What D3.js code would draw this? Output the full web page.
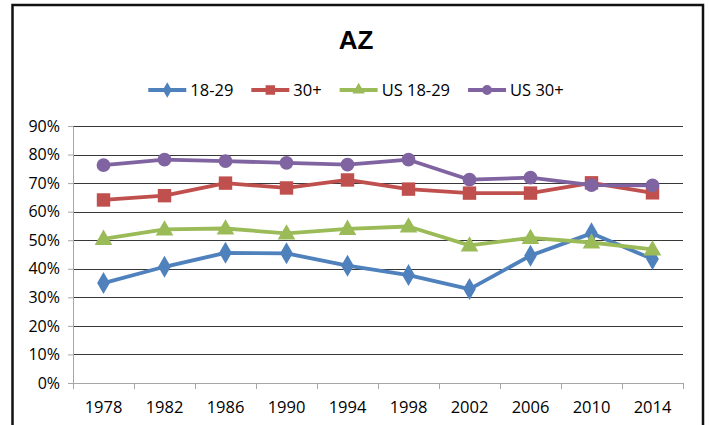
<!DOCTYPE html>
<html>
<head>
<meta charset="utf-8">
<script src="https://cdn.jsdelivr.net/npm/d3@7"></script>
<style>
  body { margin: 0; background: #fff; }
  text { font-family: "Open Sans", "DejaVu Sans", sans-serif; fill: #000; }
</style>
</head>
<body>
<div id="chart"></div>
<script>
// data
var years = ["1978", "1982", "1986", "1990", "1994", "1998", "2002", "2006", "2010", "2014"];
var az1829 = [35, 40.7, 45.6, 45.4, 41.1, 37.8, 32.9, 44.6, 52.4, 43.4];
var az30 = [64.1, 65.6, 70, 68.3, 71.1, 67.9, 66.5, 66.5, 70.1, 66.6];
var us1829 = [50.5, 53.8, 54.1, 52.4, 54, 54.8, 48.2, 50.8, 49.2, 46.8];
var us30 = [76.3, 78.2, 77.7, 77.1, 76.5, 78.2, 71.2, 71.9, 69.3, 69.2];
var yTicks = [0, 10, 20, 30, 40, 50, 60, 70, 80, 90];

var series = [
    { name: "18-29", values: az1829, color: "#4F81BD", symbol: d3.symbolDiamond, size: 140 },
    { name: "30+", values: az30, color: "#C0504D", symbol: d3.symbolSquare, size: 180 },
    { name: "US 18-29", values: us1829, color: "#9BBB59", symbol: d3.symbolTriangle, size: 135 },
    { name: "US 30+", values: us30, color: "#8064A2", symbol: d3.symbolCircle, size: 150 }
];

var W = 709, H = 425;
var margin = { top: 126, right: 26, bottom: 42, left: 73 };
var width = W - margin.left - margin.right,
    height = H - margin.top - margin.bottom;

var svg = d3.select("#chart").append("svg")
    .attr("width", W)
    .attr("height", H);

// outer frame
svg.append("rect")
    .attr("x", 12.5).attr("y", 5)
    .attr("width", 690.5).attr("height", H + 10)
    .attr("fill", "none")
    .attr("stroke", "#111")
    .attr("stroke-width", 2.5);

// title
svg.append("text")
    .attr("x", 356).attr("y", 49)
    .attr("text-anchor", "middle")
    .style("font-family", "'Liberation Sans', Arial, sans-serif")
    .style("font-weight", "bold")
    .style("font-size", "26px")
    .text("AZ");

var g = svg.append("g")
    .attr("transform", "translate(" + margin.left + "," + margin.top + ")");

var x = d3.scaleBand().domain(years).range([0, width]);
var y = d3.scaleLinear().domain([0, 90]).range([height, 0]);

// gridlines
g.selectAll(".grid").data(yTicks.filter(function(d) { return d > 0; }))
    .enter().append("line")
    .attr("class", "grid")
    .attr("x1", 0).attr("x2", width)
    .attr("y1", function(d) { return Math.round(y(d)) + 0.5; })
    .attr("y2", function(d) { return Math.round(y(d)) + 0.5; })
    .attr("stroke", "#383838")
    .attr("stroke-width", 1);

// y axis
var yAxis = d3.axisLeft(y).tickValues(yTicks)
    .tickFormat(function(d) { return d + "%"; })
    .tickSize(5).tickPadding(8);
var yG = g.append("g").attr("class", "axis y-axis").call(yAxis);
yG.select(".domain").attr("stroke", "#a6a6a6");
yG.selectAll(".tick line").attr("stroke", "#a6a6a6");
yG.selectAll("text").style("font-size", "16px").attr("fill", "#000");

// x axis, ticks at category boundaries
var xG = g.append("g")
    .attr("class", "axis x-axis")
    .attr("transform", "translate(0," + height + ")");
xG.append("line")
    .attr("x1", 0).attr("x2", width)
    .attr("y1", 0.5).attr("y2", 0.5)
    .attr("stroke", "#a6a6a6");
var bounds = years.map(function(d) { return x(d); }).concat([width]);
xG.selectAll(".xtick").data(bounds).enter().append("line")
    .attr("x1", function(d) { return Math.round(d) + 0.5; })
    .attr("x2", function(d) { return Math.round(d) + 0.5; })
    .attr("y1", 0).attr("y2", 6)
    .attr("stroke", "#a6a6a6");
xG.selectAll(".xlabel").data(years).enter().append("text")
    .attr("x", function(d) { return x(d) + x.bandwidth() / 2; })
    .attr("y", 30)
    .attr("text-anchor", "middle")
    .style("font-size", "16.5px")
    .text(function(d) { return d; });

var line = d3.line()
    .x(function(d, i) { return x(years[i]) + x.bandwidth() / 2; })
    .y(function(d) { return y(d); });

series.forEach(function(s) {
    g.append("path")
        .datum(s.values)
        .attr("fill", "none")
        .attr("stroke", s.color)
        .attr("stroke-width", 3.8)
        .attr("stroke-linejoin", "round")
        .attr("d", line);

    g.selectAll(null).data(s.values).enter().append("path")
        .attr("transform", function(d, i) {
            var yy = y(d);
            if (s.symbol === d3.symbolTriangle) yy += 1;
            return "translate(" + (x(years[i]) + x.bandwidth() / 2) + "," + yy + ")";
        })
        .attr("d", d3.symbol().type(s.symbol).size(s.size))
        .attr("fill", s.color);
});

// legend
var legend = svg.append("g").attr("transform", "translate(0,90)");
var items = legend.selectAll(".item").data(series).enter().append("g").attr("class", "item");
items.append("line")
    .attr("x1", 0).attr("x2", 38)
    .attr("stroke", function(d) { return d.color; })
    .attr("stroke-width", 3.8);
items.append("path")
    .attr("transform", "translate(19,0)")
    .attr("d", function(d) { return d3.symbol().type(d.symbol).size(d.size * 0.5)(); })
    .attr("fill", function(d) { return d.color; });
items.append("text")
    .attr("x", 42).attr("y", 6)
    .style("font-size", "16.5px")
    .text(function(d) { return d.name; });

var widths = [];
items.each(function() { widths.push(this.getBBox().width); });
var gap = 18;
var total = d3.sum(widths) + gap * (widths.length - 1);
var cx = 356 - total / 2;
items.attr("transform", function(d, i) {
    var xx = cx;
    cx += widths[i] + gap;
    return "translate(" + xx + ",0)";
});
</script>
</body>
</html>
